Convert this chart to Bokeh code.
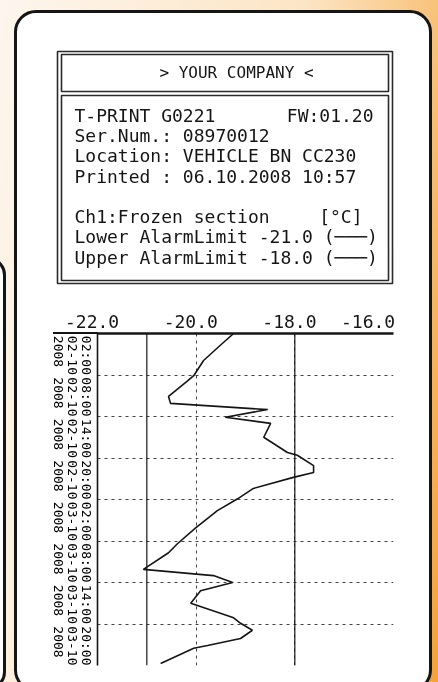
import math
from bokeh.plotting import figure
from bokeh.models import (Range1d, LinearAxis, FixedTicker, Grid,
                          Span, GlobalInlineStyleSheet)
from bokeh.core.properties import value
from bokeh.embed import file_html
from bokeh.resources import INLINE

# ---------------- data ----------------
company = "> YOUR COMPANY <"
device = "T-PRINT G0221"
firmware = "FW:01.20"
serial = "Ser.Num.: 08970012"
location = "Location: VEHICLE BN CC230"
printed = "Printed : 06.10.2008 10:57"
channel = "Ch1:Frozen section"
unit = "[°C]"
lower_limit = -21.0
upper_limit = -18.0

# elapsed hours since 02-10-2008 00:00
hours = [2.0, 3.7, 5.9, 8.1, 8.9, 11.1, 12.1, 13.0, 14.1, 15.0, 17.0, 19.2, 19.6,
         21.1, 22.1, 22.8, 24.4, 25.9, 27.6, 30.1, 32.4, 33.7, 36.1, 37.0, 38.0,
         39.2, 41.0, 43.1, 43.9, 44.9, 46.1, 47.1, 47.5, 49.7]
temps = [-19.24, -19.51, -19.85, -20.05, -20.18, -20.56, -20.52, -18.55, -19.41,
         -18.49, -18.63, -18.15, -17.95, -17.62, -17.62, -18.03, -18.84, -19.16,
         -19.57, -20.01, -20.38, -20.56, -21.07, -19.65, -19.26, -19.91, -20.11,
         -19.24, -19.10, -18.86, -19.10, -19.77, -20.05, -20.72]

temp_ticks = [-22.0, -20.0, -18.0, -16.0]
label_hours = [2, 8, 14, 20, 26, 32, 38, 44]
label_times = ["02:00", "08:00", "14:00", "20:00", "02:00", "08:00", "14:00", "20:00"]
label_dates = ["02-10", "02-10", "02-10", "02-10", "03-10", "03-10", "03-10", "03-10"]
label_year = "2008"
hour_start, hour_end = 2, 50
step = 6

# ---------------- style ----------------
W = 438
HEAD_H = 295
CHART_H = 387
FONT = "DejaVu Sans Mono"
INK = "#151515"

css = """
body{background:linear-gradient(100deg,#fdf6ee 0%,#fce5c4 55%,#f5a238 100%);}
body::before{content:"";position:fixed;left:13.5px;top:9.5px;width:412px;height:676px;
 border:3px solid #151515;border-radius:22px;background:#ffffff;z-index:-1;}
body::after{content:"";position:fixed;left:-40px;top:257px;width:40px;height:427px;
 border:3px solid #151515;border-radius:18px;background:#ffffff;z-index:-1;}
html::after{content:"";position:fixed;left:53px;top:331.8px;width:45px;height:2.5px;
 background:#151515;}
"""

# ---------------- header (printout head) ----------------
h = figure(width=W, height=HEAD_H, output_backend="svg", toolbar_location=None,
           x_range=Range1d(0, W), y_range=Range1d(HEAD_H, 0),
           x_axis_location=None, y_axis_location=None,
           min_border=0)
h.title = None
h.grid.visible = False
h.outline_line_color = None
h.border_fill_color = None
h.background_fill_color = None
h.stylesheets = [GlobalInlineStyleSheet(css=css)]

h.quad(left=[57, 61, 61], right=[392, 388, 388], top=[51, 54, 95], bottom=[283, 91, 280],
       fill_color=None, line_color="#2a2a2a", line_width=1.6)

left_lines = [device, serial, location, printed, channel,
              "Lower AlarmLimit %.1f (───)" % lower_limit,
              "Upper AlarmLimit %.1f (───)" % upper_limit]
left_y = [115, 135, 155, 176, 216, 236, 257]
h.text(x=[74] * len(left_lines), y=left_y, text=left_lines,
       text_font=value(FONT), text_font_size=value("18px"), text_color=INK,
       text_align="left", text_baseline="middle")
h.text(x=[373, 362], y=[115, 216], text=[firmware, unit],
       text_font=value(FONT), text_font_size=value("18px"), text_color=INK,
       text_align="right", text_baseline="middle")
h.text(x=[236], y=[72], text=[company],
       text_font=value(FONT), text_font_size=value("16px"), text_color=INK,
       text_align="center", text_baseline="middle")

# ---------------- chart ----------------
FL, FR, FT = 97, 393, 38
FB = FT + 332
p = figure(width=W, height=CHART_H, output_backend="svg", toolbar_location=None,
           x_range=Range1d(temp_ticks[0], temp_ticks[-1]),
           y_range=Range1d(hour_end, hour_start),
           x_axis_location="above", y_axis_location=None,
           min_border_left=FL, min_border_top=FT,
           min_border_right=W - FR, min_border_bottom=CHART_H - FB)
p.title = None
p.outline_line_color = None
p.border_fill_color = None
p.background_fill_color = None
p.ygrid.visible = False

# top axis (temperature); printer writes labels just left of their grid line,
# the last one flush with the right edge
temp_labels = {t: "%.1f " % t for t in temp_ticks}
temp_labels[temp_ticks[-1]] = "%.1f    " % temp_ticks[-1]
xa = p.xaxis[0]
xa.ticker = FixedTicker(ticks=temp_ticks)
xa.major_label_overrides = temp_labels
xa.major_tick_line_color = None
xa.minor_tick_line_color = None
xa.axis_line_color = INK
xa.axis_line_width = 2.5
xa.major_label_text_font = FONT
xa.major_label_text_font_size = "18px"
xa.major_label_text_color = INK
xa.major_label_standoff = -4

# left axis: each time label sits in its 6-h interval, ending at the next grid line
p.extra_y_ranges = {"lab": Range1d(hour_end - step, hour_start - step)}
labels = {hh: "%s\n%s\n %s" % (t, d, label_year)
          for hh, t, d in zip(label_hours, label_times, label_dates)}
ya = LinearAxis(y_range_name="lab", ticker=FixedTicker(ticks=label_hours),
                major_label_overrides=labels,
                major_label_orientation=-math.pi / 2)
ya.major_tick_line_color = None
ya.minor_tick_line_color = None
ya.axis_line_color = INK
ya.axis_line_width = 1.6
ya.major_label_text_font = FONT
ya.major_label_text_font_size = "13px"
ya.major_label_text_color = "#000000"
ya.major_label_text_line_height = 0.95
ya.major_label_standoff = 19
p.add_layout(ya, "left")

# grids
p.xgrid.ticker = FixedTicker(ticks=temp_ticks)
p.xgrid.grid_line_color = "#444444"
p.xgrid.grid_line_dash = "3 4"
p.xgrid.grid_line_width = 1
p.add_layout(Grid(dimension=1, ticker=FixedTicker(ticks=label_hours[1:]),
                  grid_line_color="#444444", grid_line_dash="3 4", grid_line_width=1))

# alarm limits
for lim in (lower_limit, upper_limit):
    p.add_layout(Span(location=lim, dimension="height", line_color=INK, line_width=1.2))

p.line(temps, hours, line_color=INK, line_width=1.6)

open("out.html", "w").write(file_html([h, p], INLINE))
